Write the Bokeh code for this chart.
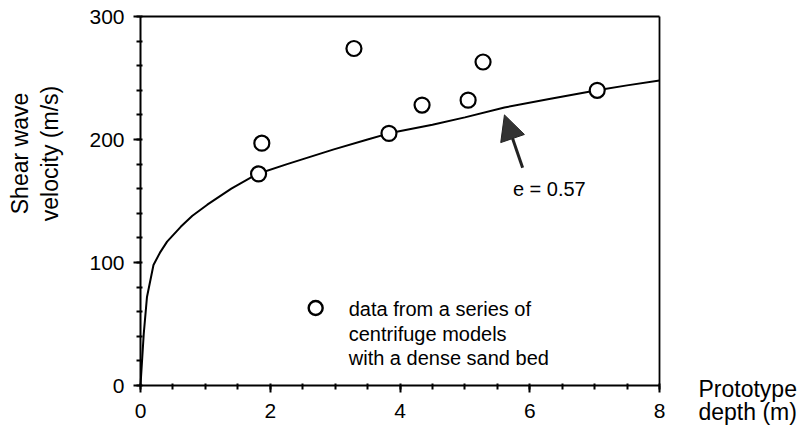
from bokeh.plotting import figure
from bokeh.models import Label, Arrow, NormalHead, Range1d, FixedTicker, LinearAxis
from bokeh.embed import file_html
from bokeh.resources import INLINE

# measured data (centrifuge models)
depth_data = [1.82, 1.87, 3.29, 3.83, 4.34, 5.05, 5.28, 7.04]
vs_data = [172, 197, 274, 205, 228, 232, 263, 240]

# e = 0.57 curve
curve_depth = [0.0, 0.05, 0.1, 0.2, 0.3, 0.41, 0.62, 0.8, 1.03, 1.4, 1.8, 2.26, 2.98, 3.5, 3.83, 4.5, 5.0, 5.61, 6.3, 7.04, 7.5, 8.0]
curve_vs = [0, 42, 72, 98, 108, 117, 129, 138, 147, 160, 172, 180, 192, 200, 205, 212, 218, 226, 233, 240, 244, 248]

x_ticks = [0, 2, 4, 6, 8]
y_ticks = [0, 100, 200, 300]
x_minor = [0.5 * i for i in range(17)]
y_minor = [20 * i for i in range(16)]

legend_lines = ["data from a series of", "centrifuge models", "with a dense sand bed"]
y_title = ["Shear wave", "velocity (m/s)"]
x_title = ["Prototype", "depth (m)"]

FONT = "Liberation Sans"
W, H = 802, 431
FL, FR, FT, FB = 140, 659, 16, 385   # pixel box of the plotting area
xs = 8 / (FR - FL)
ys = 300 / (FB - FT)

p = figure(width=W, height=H, output_backend="svg", toolbar_location=None,
           x_axis_location=None, y_axis_location=None,
           x_range=Range1d(-FL * xs, (W - FL) * xs),
           y_range=Range1d(-(H - FB) * ys, 300 + FT * ys))
p.min_border = 0
p.grid.visible = False
p.outline_line_color = None
p.background_fill_color = "white"
p.border_fill_color = "white"


def style(ax):
    ax.axis_line_width = 2
    ax.axis_line_color = "black"
    ax.major_tick_line_width = 2
    ax.major_tick_line_color = "black"
    ax.minor_tick_line_width = 2
    ax.minor_tick_line_color = "black"
    ax.major_tick_out = 7
    ax.major_tick_in = 0
    ax.minor_tick_out = 4
    ax.minor_tick_in = 2
    ax.major_label_text_font = FONT
    ax.major_label_text_font_size = "21px"
    ax.major_label_text_color = "black"


xaxis = LinearAxis(fixed_location=0, bounds=(0, 8),
                   ticker=FixedTicker(ticks=x_ticks, minor_ticks=x_minor))
style(xaxis)
xaxis.major_label_standoff = 11
yaxis = LinearAxis(fixed_location=0, bounds=(0, 300),
                   ticker=FixedTicker(ticks=y_ticks, minor_ticks=y_minor))
style(yaxis)
yaxis.major_label_standoff = 9
p.add_layout(xaxis, "below")
p.add_layout(yaxis, "left")

# top and right frame lines
for loc, side, bnd in [(300, "above", (0, 8)), (8, "right", (0, 300))]:
    ax = LinearAxis(fixed_location=loc, bounds=bnd, ticker=FixedTicker(ticks=[]))
    ax.axis_line_width = 1.8
    ax.axis_line_color = "black"
    ax.major_tick_line_color = None
    ax.minor_tick_line_color = None
    ax.major_label_text_color = None
    p.add_layout(ax, side)

p.line(curve_depth, curve_vs, line_color="black", line_width=2)
p.scatter(depth_data, vs_data, marker="circle", size=15, fill_color="white",
          line_color="black", line_width=2.2)

# legend
p.scatter([2.70], [63], marker="circle", size=14, fill_color="white",
          line_color="black", line_width=2.4)
for txt, yy in zip(legend_lines, [62.5, 42, 22]):
    p.add_layout(Label(x=3.21, y=yy, text=txt, text_font=FONT, text_font_size="20px",
                       text_baseline="middle", text_color="black"))

# arrow annotation
p.add_layout(Arrow(end=NormalHead(size=25, fill_color="#333333", line_color="#222222"),
                   x_start=5.89, y_start=177, x_end=5.61, y_end=220,
                   line_width=3, line_color="#222222"))
p.add_layout(Label(x=5.74, y=160, text="e = 0.57", text_font=FONT, text_font_size="20px",
                   text_baseline="middle", text_color="black"))

# axis titles
for txt, px in zip(y_title, [19, 49]):
    p.add_layout(Label(x=(px - FL) * xs, y=(FB - 153) * ys, text=txt,
                       angle=90, angle_units="deg", text_align="center",
                       text_baseline="middle", text_font=FONT, text_font_size="23px",
                       text_color="black"))
for txt, py in zip(x_title, [388, 411]):
    p.add_layout(Label(x=(698 - FL) * xs, y=(FB - py) * ys, text=txt,
                       text_align="left", text_baseline="middle", text_font=FONT,
                       text_font_size="23px", text_color="black"))

open("out.html", "w").write(file_html(p, INLINE))
